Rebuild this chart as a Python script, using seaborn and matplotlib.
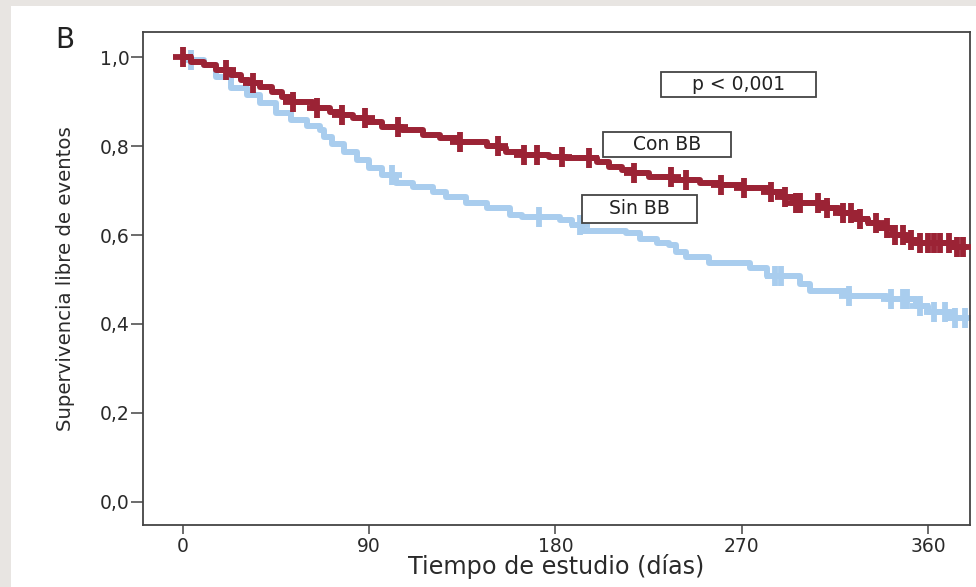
import numpy as np
import pandas as pd
import matplotlib
matplotlib.use("Agg")
import matplotlib.pyplot as plt
import seaborn as sns
from matplotlib.patches import Rectangle

# ---------------- data ----------------
con_days = [0, 4, 10, 16, 23, 28, 32, 37, 43, 48, 53, 63, 71, 76, 82, 89, 96, 106,
            116, 124, 133, 147, 153, 156, 164, 177, 185, 200, 206, 212, 217, 225,
            237, 250, 259, 270, 283, 290, 296, 303, 311, 317, 325, 331, 336, 343,
            349, 354, 372, 378]
con_surv = [1.0, 0.989, 0.983, 0.97, 0.96, 0.948, 0.941, 0.932, 0.921, 0.91, 0.899,
            0.885, 0.876, 0.869, 0.863, 0.854, 0.842, 0.836, 0.824, 0.818, 0.81,
            0.80, 0.795, 0.786, 0.779, 0.775, 0.772, 0.764, 0.752, 0.745, 0.739,
            0.73, 0.723, 0.716, 0.712, 0.705, 0.696, 0.685, 0.673, 0.671, 0.66,
            0.649, 0.637, 0.626, 0.615, 0.599, 0.588, 0.581, 0.574, 0.574]
con_censor = [0, 21, 34, 53, 65, 77, 88, 104, 134, 152, 165, 171, 183, 196, 218,
              236, 243, 260, 271, 284, 291, 296, 298, 307, 311, 319, 323, 327, 335,
              340, 344, 348, 352, 356, 360, 363, 366, 370, 374, 377]

sin_days = [0, 4, 10, 16, 23, 31, 37, 45, 52, 60, 66, 68, 72, 78, 84, 90, 96, 103,
            111, 121, 127, 137, 147, 158, 164, 182, 188, 193, 214, 221, 229, 235,
            238, 243, 254, 274, 282, 298, 303, 322, 340, 354, 360, 370, 379]
sin_surv = [1.0, 0.993, 0.982, 0.955, 0.93, 0.914, 0.896, 0.874, 0.858, 0.845, 0.836,
            0.82, 0.804, 0.786, 0.768, 0.75, 0.734, 0.718, 0.707, 0.696, 0.685,
            0.673, 0.66, 0.644, 0.64, 0.633, 0.622, 0.61, 0.604, 0.592, 0.583,
            0.577, 0.561, 0.55, 0.536, 0.525, 0.507, 0.491, 0.475, 0.464, 0.457,
            0.441, 0.426, 0.414, 0.414]
sin_censor = [4, 101, 172, 192, 286, 289, 322, 342, 348, 350, 356, 363, 368, 373, 378]

x_ticks = [0, 90, 180, 270, 360]
y_ticks = [0.0, 0.2, 0.4, 0.6, 0.8, 1.0]
y_ticklabels = ["0,0", "0,2", "0,4", "0,6", "0,8", "1,0"]

RED = "#9b2335"
BLUE = "#a9cdee"
TXT = "#2a2a2a"

def step_value(days, surv, t):
    idx = np.searchsorted(np.asarray(days), t, side="right") - 1
    return np.asarray(surv)[np.clip(idx, 0, len(surv) - 1)]

# ---------------- figure ----------------
sns.set_theme(style="white")
plt.rcParams["font.family"] = ["DejaVu Sans"]

fig = plt.figure(figsize=(9.76, 5.87), dpi=100, facecolor="white")
# slide-like grey border strips
fig.patches.append(Rectangle((0, 1 - 6 / 587), 1, 6 / 587, transform=fig.transFigure,
                             facecolor="#e8e5e2", edgecolor="none", zorder=-10))
fig.patches.append(Rectangle((0, 0), 11 / 976, 1, transform=fig.transFigure,
                             facecolor="#e8e5e2", edgecolor="none", zorder=-10))

ax = fig.add_axes([143 / 976, 1 - 525 / 587, (970 - 143) / 976, (525 - 32) / 587])

lw = 4.3
sns.lineplot(x=sin_days, y=sin_surv, ax=ax, color=BLUE, linewidth=lw,
             drawstyle="steps-post", zorder=2)
sns.lineplot(x=con_days, y=con_surv, ax=ax, color=RED, linewidth=lw,
             drawstyle="steps-post", zorder=3)

sns.scatterplot(x=sin_censor, y=step_value(sin_days, sin_surv, sin_censor), ax=ax,
                marker="+", s=210, linewidth=4.2, color=BLUE, zorder=2)
sns.scatterplot(x=con_censor, y=step_value(con_days, con_surv, con_censor), ax=ax,
                marker="+", s=210, linewidth=4.2, color=RED, zorder=3)

ax.set_xlim(-19.3, 380.3)
ax.set_ylim(-0.0518, 1.0563)
ax.set_xticks(x_ticks)
ax.set_xticklabels([str(v) for v in x_ticks])
ax.set_yticks(y_ticks)
ax.set_yticklabels(y_ticklabels)

for s in ax.spines.values():
    s.set_visible(True)
    s.set_color("#444444")
    s.set_linewidth(1.3)

ax.tick_params(axis="y", direction="out", length=8.5, width=1.1, color="#444444",
               labelsize=13.5, labelcolor=TXT, pad=1, left=True)
ax.tick_params(axis="x", direction="out", length=6.5, width=1.1, color="#444444",
               labelsize=13.5, labelcolor=TXT, pad=2, bottom=True)

ax.set_xlabel("Tiempo de estudio (días)", fontsize=17.2, color=TXT, labelpad=-1)
ax.set_ylabel("Supervivencia libre de eventos", fontsize=14.2, color=TXT)
ax.yaxis.set_label_coords(-0.082, 0.5)

fig.text(55 / 976, 1 - 40 / 587, "B", fontsize=20, color="#222222",
         ha="left", va="center")

# annotation boxes (data coordinates)
boxes = [
    ("p < 0,001", 231, 306, 0.910, 0.966),
    ("Con BB", 203, 265, 0.775, 0.831),
    ("Sin BB", 193, 248.5, 0.628, 0.691),
]
for label, x0, x1, y0, y1 in boxes:
    ax.add_patch(Rectangle((x0, y0), x1 - x0, y1 - y0, facecolor="white",
                           edgecolor="#444444", linewidth=1.3, zorder=5))
    ax.text((x0 + x1) / 2, (y0 + y1) / 2, label, fontsize=13.5, color="#222222",
            ha="center", va="center", zorder=6)

fig.savefig("out.png", dpi=100, facecolor=fig.get_facecolor())
